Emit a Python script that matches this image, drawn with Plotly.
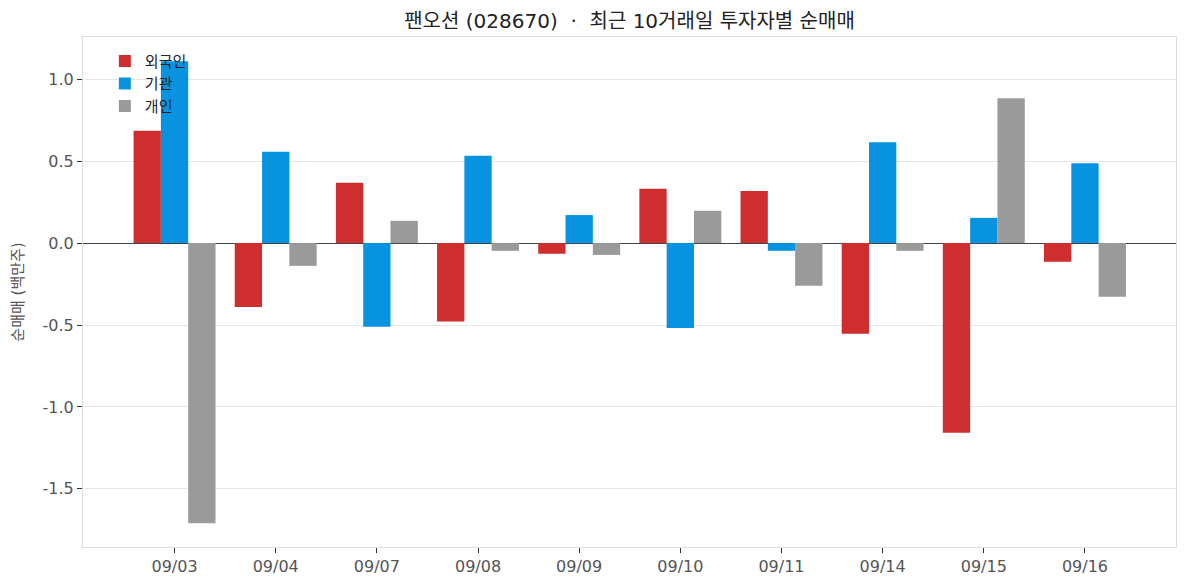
import plotly.graph_objects as go

dates = ["09/03", "09/04", "09/07", "09/08", "09/09", "09/10", "09/11", "09/14", "09/15", "09/16"]
foreign = [0.685, -0.39, 0.368, -0.479, -0.065, 0.331, 0.318, -0.554, -1.157, -0.114]
institution = [1.11, 0.557, -0.510, 0.533, 0.171, -0.518, -0.047, 0.616, 0.154, 0.488]
individual = [-1.71, -0.139, 0.136, -0.047, -0.072, 0.197, -0.261, -0.047, 0.884, -0.328]
series_names = ["외국인", "기관", "개인"]
colors = ["#CF2E2E", "#0893E0", "#9A9A9A"]
ytick_vals = [-1.5, -1.0, -0.5, 0.0, 0.5, 1.0]

FONT = "DejaVu Sans, Noto Sans CJK KR, sans-serif"
x = list(range(len(dates)))

fig = go.Figure()
for name, vals, col in zip(series_names, [foreign, institution, individual], colors):
    fig.add_trace(go.Bar(x=x, y=vals, name=name, marker=dict(color=col, line=dict(width=0))))

fig.update_layout(
    width=1187, height=587,
    barmode="group", bargap=0.19, bargroupgap=0,
    plot_bgcolor="white", paper_bgcolor="white",
    margin=dict(l=75, r=19, t=29, b=48),
    font=dict(family=FONT, color="#444"),
    title=dict(text="팬오션 (028670)  ·  최근 10거래일 투자자별 순매매", x=0.5, xref="paper",
               xanchor="center", y=0.978, yanchor="middle",
               font=dict(size=20, color="#222", family=FONT)),
    legend=dict(x=0.02, y=0.985, xanchor="left", yanchor="top", bgcolor="rgba(255,255,255,0)",
                font=dict(size=15, color="#222", family=FONT), itemwidth=30),
    showlegend=True,
)
fig.update_xaxes(
    tickmode="array", tickvals=x, ticktext=dates, range=[-0.905, 9.9],
    showgrid=False, ticks="outside", ticklen=5, tickcolor="#333",
    tickfont=dict(size=16, color="#555"), automargin=False,
    showline=True, linecolor="#DDDDDD", linewidth=1, mirror=True, zeroline=False,
)
fig.update_yaxes(
    tickmode="array", tickvals=ytick_vals, ticktext=[f"{v:.1f}" for v in ytick_vals],
    range=[-1.855, 1.258], automargin=False,
    showgrid=True, gridcolor="#E6E6E6", gridwidth=1,
    zeroline=True, zerolinecolor="#444", zerolinewidth=1.2,
    ticks="outside", ticklen=5, tickcolor="#333",
    tickfont=dict(size=16, color="#555"),
    showline=True, linecolor="#DDDDDD", linewidth=1, mirror=True,
    title=dict(text="순매매 (백만주)", font=dict(size=15, color="#555"), standoff=15),
)
fig.write_html("out.html")
